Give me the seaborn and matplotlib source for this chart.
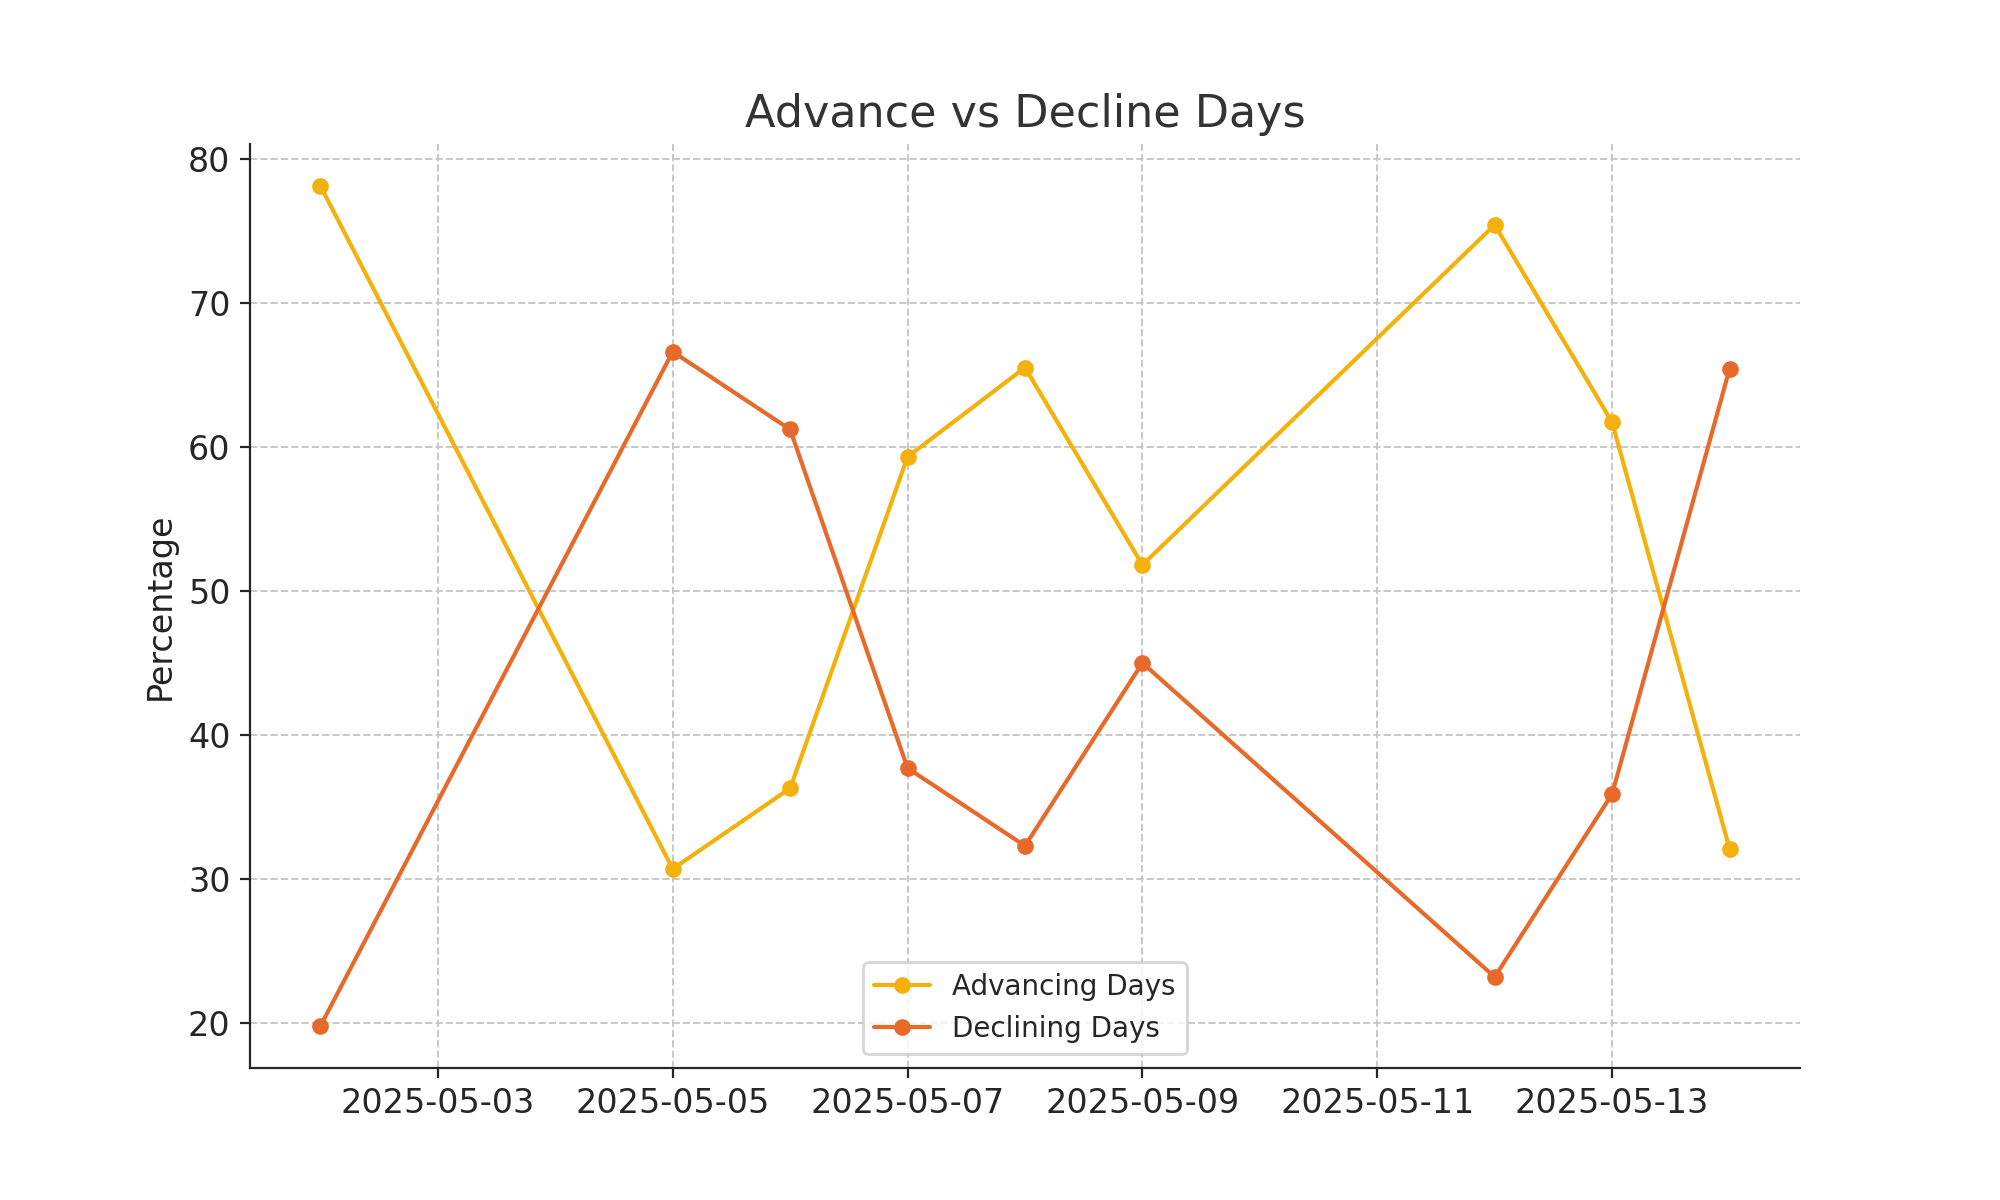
import matplotlib
matplotlib.use("Agg")
import matplotlib.pyplot as plt
import matplotlib.dates as mdates
import seaborn as sns
import pandas as pd

dates = ["2025-05-02", "2025-05-05", "2025-05-06", "2025-05-07", "2025-05-08",
         "2025-05-09", "2025-05-12", "2025-05-13", "2025-05-14"]
advancing = [78.1, 30.7, 36.3, 59.3, 65.5, 51.8, 75.4, 61.7, 32.1]
declining = [19.8, 66.6, 61.2, 37.7, 32.3, 45.0, 23.2, 35.9, 65.4]

df = pd.DataFrame({"Date": pd.to_datetime(dates),
                   "Advancing Days": advancing,
                   "Declining Days": declining})
long = df.melt(id_vars="Date", var_name="Series", value_name="Percentage")

sns.set_style("ticks")
fig, ax = plt.subplots(figsize=(10, 6), dpi=200)
sns.lineplot(data=long, x="Date", y="Percentage", hue="Series", marker="o",
             markersize=6, markeredgewidth=0, linewidth=1.5,
             palette={"Advancing Days": "#F5B10B", "Declining Days": "#E86A2B"}, ax=ax)

ax.grid(True, linestyle="--", color="#c8c8c8", linewidth=0.7)
ax.xaxis.set_major_locator(mdates.DayLocator(bymonthday=[3, 5, 7, 9, 11, 13]))
ax.xaxis.set_major_formatter(mdates.DateFormatter("%Y-%m-%d"))
ax.set_title("Advance vs Decline Days", fontsize=16, color="#333333")
ax.set_xlabel("")
ax.set_ylabel("Percentage", fontsize=12, color="#222222")
ax.tick_params(labelsize=12)
sns.despine(ax=ax)
ax.legend(title=None, loc="lower center", fontsize=10)

fig.subplots_adjust(left=0.125, right=0.9, top=0.88, bottom=0.11)
fig.savefig("out.png")
